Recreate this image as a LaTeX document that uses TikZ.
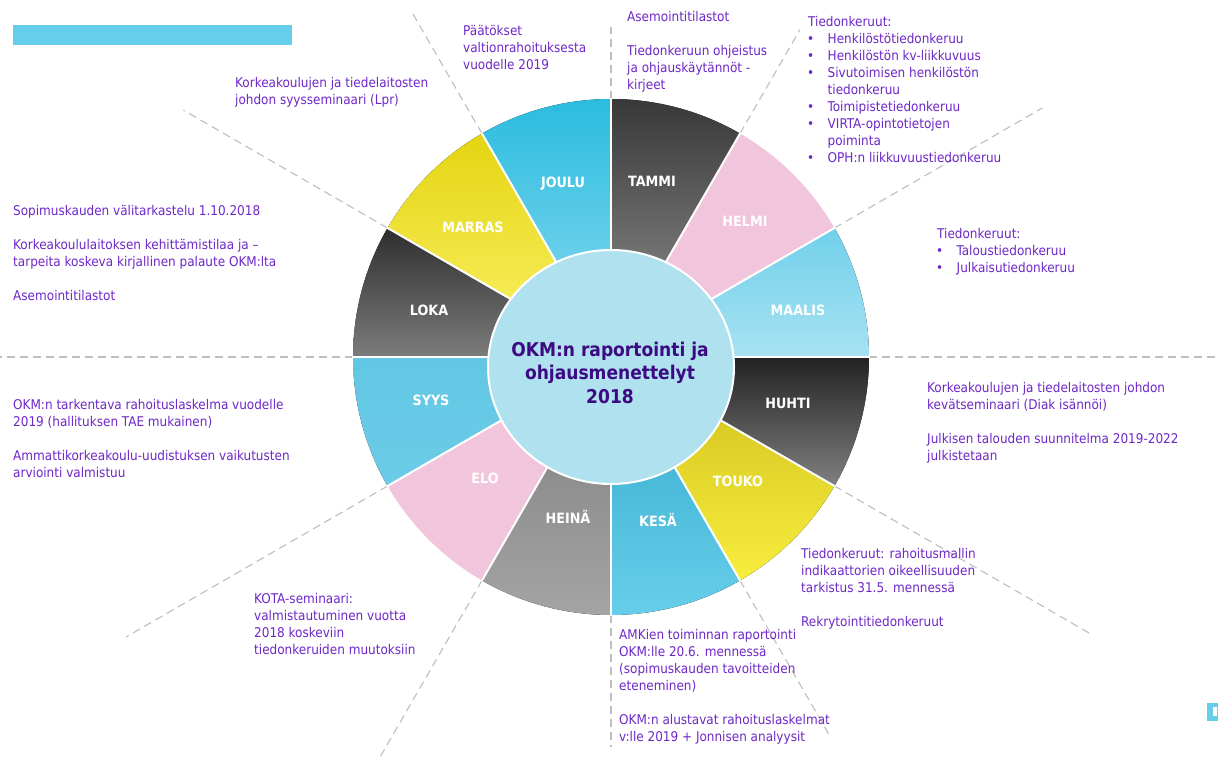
\documentclass[tikz,border=0pt]{standalone}
\usepackage{fontspec}
\setmainfont{DejaVu Sans Condensed}
\definecolor{txt}{RGB}{110,40,200}
\definecolor{ctxt}{RGB}{60,10,130}
\definecolor{dashc}{RGB}{190,190,190}
\definecolor{barc}{RGB}{101,206,234}
\definecolor{pinkc}{RGB}{241,198,221}
\definecolor{hubc}{RGB}{176,225,239}
\tikzset{
  lbl/.style={anchor=north west, inner sep=0pt, align=left, text=txt,
    font=\fontsize{13.4}{17}\selectfont},
  mon/.style={anchor=base, inner sep=0pt, text=white,
    font=\fontsize{14.2}{16}\selectfont\bfseries},
  guide/.style={draw=dashc, line width=1.1pt, dash pattern=on 8pt off 5pt},
  sep/.style={draw=white, line width=2pt},
}
\newcommand\wseg[3]{\fill[#3] (#1:105pt) -- (#1:258pt) arc[start angle=#1,end angle=#2,radius=258pt] -- (#2:105pt) arc[start angle=#2,end angle=#1,radius=105pt] -- cycle;}
\newcommand\bul{\makebox[19.5pt][l]{\hspace{-1pt}•}}
\newcommand\ind{\hspace*{19.5pt}}
\begin{document}
\begin{tikzpicture}[x=1pt,y=1pt]
\useasboundingbox (0,0) rectangle (1218,758);
\fill[white] (0,0) rectangle (1218,758);
% top-left bar
\fill[barc] (13,713) rectangle (292,733);
% bottom-right logo fragment
\fill[barc] (1207,37) rectangle (1218,55);
\fill[white] (1213,42) rectangle (1216.5,51);
% wheel
\begin{scope}[shift={(611,401)}]
  % dashed guides
  \draw[guide] (90:258pt) -- (90:330pt);
  \draw[guide] (60:258pt) -- (60:378pt);
  \draw[guide] (30:258pt) -- (30:498pt);
  \draw[guide] (0:258pt) -- (0:607pt);
  \draw[guide] (-30:258pt) -- (-30:553pt);
  \draw[guide] (-60:258pt) -- (-60:437pt);
  \draw[guide] (-90:258pt) -- (-90:390pt);
  \draw[guide] (-120:258pt) -- (-120:462pt);
  \draw[guide] (-150:258pt) -- (-150:560pt);
  \draw[guide] (180:258pt) -- (180:611pt);
  \draw[guide] (150:258pt) -- (150:494pt);
  \draw[guide] (120:258pt) -- (120:400pt);
  % segments
  \wseg{60}{90}{top color={rgb,255:red,56;green,56;blue,56}, bottom color={rgb,255:red,118;green,118;blue,118}}
  \wseg{30}{60}{pinkc}
  \wseg{0}{30}{top color={rgb,255:red,112;green,208;blue,234}, bottom color={rgb,255:red,168;green,226;blue,242}}
  \wseg{-30}{0}{top color={rgb,255:red,34;green,34;blue,34}, bottom color={rgb,255:red,128;green,128;blue,128}}
  \wseg{-60}{-30}{top color={rgb,255:red,216;green,201;blue,34}, bottom color={rgb,255:red,248;green,238;blue,62}}
  \wseg{-90}{-60}{top color={rgb,255:red,68;green,182;blue,214}, bottom color={rgb,255:red,102;green,206;blue,234}}
  \wseg{-120}{-90}{top color={rgb,255:red,138;green,138;blue,138}, bottom color={rgb,255:red,164;green,164;blue,164}}
  \wseg{-150}{-120}{pinkc}
  \wseg{180}{210}{top color={rgb,255:red,98;green,199;blue,228}, bottom color={rgb,255:red,108;green,204;blue,231}}
  \wseg{150}{180}{top color={rgb,255:red,46;green,46;blue,46}, bottom color={rgb,255:red,124;green,124;blue,124}}
  \wseg{120}{150}{top color={rgb,255:red,228;green,212;blue,18}, bottom color={rgb,255:red,246;green,236;blue,86}}
  \wseg{90}{120}{top color={rgb,255:red,42;green,188;blue,224}, bottom color={rgb,255:red,108;green,208;blue,234}}
  % separators
  \foreach \a in {0,30,...,330} \draw[sep] (\a:100pt) -- (\a:259pt);
  % hub
  \filldraw[fill=hubc, sep] (0,-10) ellipse[x radius=123pt, y radius=117pt];
\end{scope}
% hub text
\node[anchor=north, inner sep=0pt, align=center, text=ctxt,
  font=\fontsize{19}{23.7}\selectfont\bfseries] (hub) at (610,418.6)
  {\strut OKM:n raportointi ja\\ohjausmenettelyt\\2018};
% month labels
\node[mon] (joulu) at (563,570) {JOULU};
\node[mon] (tammi) at (652,571) {TAMMI};
\node[mon] (helmi) at (745,531) {HELMI};
\node[mon] (maalis) at (798,442) {MAALIS};
\node[mon] (huhti) at (788,349) {HUHTI};
\node[mon] (touko) at (738,271) {TOUKO};
\node[mon] (kesa) at (658,231) {KESÄ};
\node[mon] (heina) at (568,234) {HEINÄ};
\node[mon] (elo) at (485,274) {ELO};
\node[mon] (syys) at (431,352) {SYYS};
\node[mon] (loka) at (429,442) {LOKA};
\node[mon] (marras) at (473,525) {MARRAS};
% event texts
\node[lbl] (paatos) at (463,734.9) {\strut Päätökset\\valtionrahoituksesta\\vuodelle 2019};
\node[lbl] (asem) at (627,748.9) {\strut Asemointitilastot\\[17pt]Tiedonkeruun ohjeistus\\ja ohjauskäytännöt -\\kirjeet};
\node[lbl] (tiedA) at (808,743.9) {\strut Tiedonkeruut:\\\bul Henkilöstötiedonkeruu\\\bul Henkilöstön kv-liikkuvuus\\\bul Sivutoimisen henkilöstön\\\ind tiedonkeruu\\\bul Toimipistetiedonkeruu\\\bul VIRTA-opintotietojen\\\ind poiminta\\\bul OPH:n liikkuvuustiedonkeruu};
\node[lbl] (tiedB) at (937,531.9) {\strut Tiedonkeruut:\\\bul Taloustiedonkeruu\\\bul Julkaisutiedonkeruu};
\node[lbl] (kevat) at (927,377.9) {\strut Korkeakoulujen ja tiedelaitosten johdon\\kevätseminaari (Diak isännöi)\\[17pt]Julkisen talouden suunnitelma 2019-2022\\julkistetaan};
\node[lbl] (rahoitus) at (801,211.9) {\strut Tiedonkeruut: rahoitusmallin\\indikaattorien oikeellisuuden\\tarkistus 31.5. mennessä\\[17pt]Rekrytointitiedonkeruut};
\node[lbl] (amk) at (619,130.9) {\strut AMKien toiminnan raportointi\\OKM:lle 20.6. mennessä\\(sopimuskauden tavoitteiden\\eteneminen)\\[17pt]OKM:n alustavat rahoituslaskelmat\\v:lle 2019 + Jonnisen analyysit};
\node[lbl] (kota) at (254,166.9) {\strut KOTA-seminaari:\\valmistautuminen vuotta\\2018 koskeviin\\tiedonkeruiden muutoksiin};
\node[lbl] (tarkent) at (13,360.9) {\strut OKM:n tarkentava rahoituslaskelma vuodelle\\2019 (hallituksen TAE mukainen)\\[17pt]Ammattikorkeakoulu-uudistuksen vaikutusten\\arviointi valmistuu};
\node[lbl] (sopimus) at (13,554.9) {\strut Sopimuskauden välitarkastelu 1.10.2018\\[17pt]Korkeakoululaitoksen kehittämistilaa ja –\\tarpeita koskeva kirjallinen palaute OKM:lta\\[17pt]Asemointitilastot};
\node[lbl] (syysem) at (235,682.9) {\strut Korkeakoulujen ja tiedelaitosten\\johdon syysseminaari (Lpr)};
\end{tikzpicture}
\end{document}
